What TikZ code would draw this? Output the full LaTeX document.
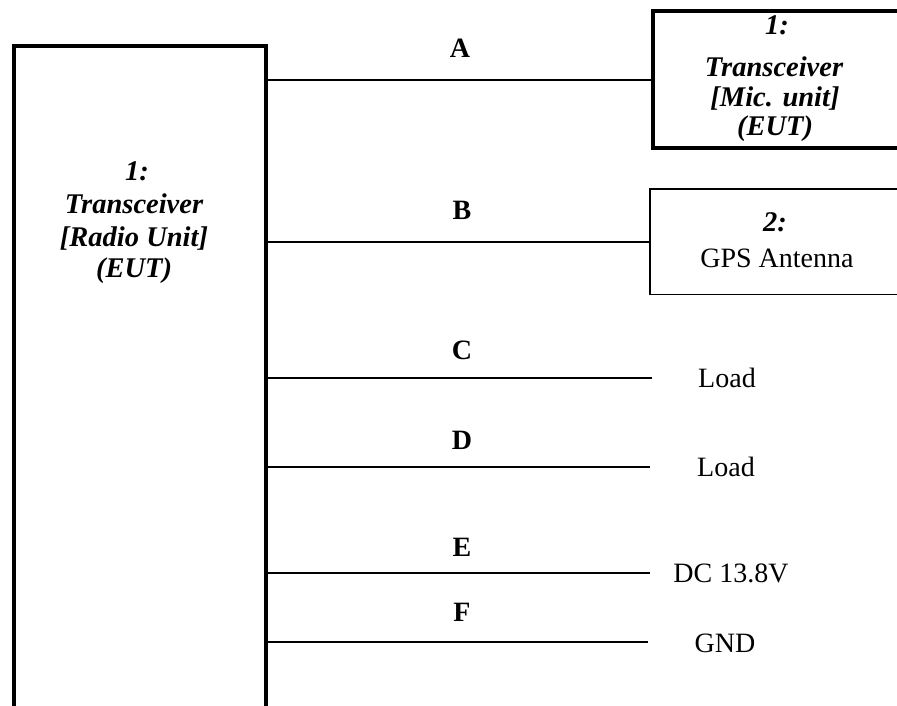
\documentclass[tikz,border=0pt]{standalone}
\usepackage{fontspec}
\setmainfont{Liberation Serif}
\begin{document}
\begin{tikzpicture}[x=1pt,y=-1pt,
  thickbox/.style={draw,line width=4pt,rectangle,inner sep=0pt,anchor=north west},
  thinbox/.style={draw,line width=1.8pt,rectangle,inner sep=0pt,anchor=north west},
  conn/.style={line width=2.2pt},
  eut/.style={font=\fontsize{28.5}{30}\selectfont\bfseries\itshape,anchor=base,inner sep=0pt},
  plain/.style={font=\fontsize{28}{30}\selectfont,inner sep=0pt},
  lbl/.style={font=\fontsize{28}{30}\selectfont\bfseries,inner sep=0pt}]
\useasboundingbox (0,0) rectangle (897,706);
% boxes
\node[thickbox,minimum width=252pt,minimum height=700pt] (ru) at (11.5,44) {};
\node[thickbox,minimum width=260pt,minimum height=136.5pt] (mic) at (650.5,9.5) {};
\node[thinbox,minimum width=260pt,minimum height=105.5pt] (gps) at (649,188) {};
% box texts
\node[eut] (ru1) at (137,181) {1:};
\node[eut] (ru2) at (134,213) {Transceiver};
\node[eut] (ru3) at (134,246) {[Radio Unit]};
\node[eut] (ru4) at (134,277) {(EUT)};
\node[eut] (mic1) at (777,35) {1:};
\node[eut] (mic2) at (774,77) {Transceiver};
\node[eut] (mic3) at (775,107) {[Mic. unit]};
\node[eut] (mic4) at (775,136) {(EUT)};
\node[eut] (gps1) at (775,231) {2:};
\node[plain,anchor=base] (gps2) at (777,267) {GPS Antenna};
% free ends
\coordinate (cend) at (652,378);
\coordinate (dend) at (650,467);
\coordinate (eend) at (650,573);
\coordinate (fend) at (648,642);
% connectors
\draw[conn] (mic.west -| ru.east) -- (mic.west);
\draw[conn] (gps.west -| ru.east) -- (gps.west);
\draw[conn] (cend -| ru.east) -- (cend);
\draw[conn] (dend -| ru.east) -- (dend);
\draw[conn] (eend -| ru.east) -- (eend);
\draw[conn] (fend -| ru.east) -- (fend);
% connector labels
\node[lbl] (la) at (460,48) {A};
\node[lbl] (lb) at (462,210) {B};
\node[lbl] (lc) at (462,350) {C};
\node[lbl] (ld) at (462,440) {D};
\node[lbl] (le) at (462,547) {E};
\node[lbl] (lf) at (462,612) {F};
% end labels
\node[plain] (tc) at (727,378) {Load};
\node[plain] (td) at (726,467) {Load};
\node[plain] (te) at (731,573) {DC 13.8V};
\node[plain] (tf) at (725,643) {GND};
\end{tikzpicture}
\end{document}
